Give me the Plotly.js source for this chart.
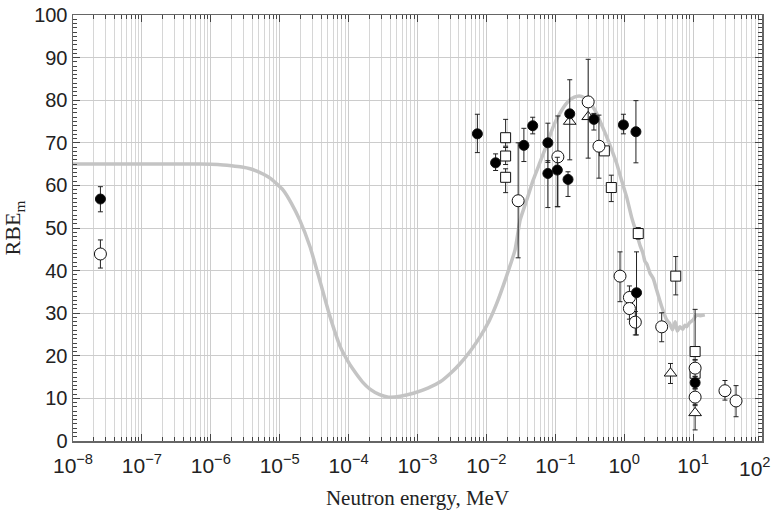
<!DOCTYPE html>
<html>
<head>
<meta charset="utf-8">
<script src="https://cdn.plot.ly/plotly-3.0.1.min.js"></script>
<style>html,body{margin:0;padding:0;background:#fff;}#chart{width:773px;height:520px;}</style>
</head>
<body>
<div id="chart"></div>
<script>
// Model curve (log10 of energy in MeV, RBE_m)
const curveLogE = [-8, -7, -6.5, -6.16, -5.9, -5.7, -5.55, -5.43, -5.3, -5.14, -4.95, -4.83, -4.71, -4.56, -4.42, -4.27, -4.12, -4.02, -3.93, -3.8, -3.69, -3.55, -3.42, -3.25, -3.06, -2.85, -2.67, -2.52, -2.38, -2.23, -2.09, -1.96, -1.85, -1.71, -1.585, -1.51, -1.41, -1.32, -1.22, -1.125, -1.03, -0.93, -0.835, -0.76, -0.69, -0.62, -0.545, -0.47, -0.40, -0.33, -0.254, -0.18, -0.11, -0.04, 0.035, 0.108, 0.18, 0.23, 0.27, 0.30, 0.33, 0.375, 0.42, 0.47, 0.545, 0.617, 0.66, 0.70, 0.74, 0.77, 0.81, 0.85, 0.88, 0.906, 0.95, 1.0, 1.05, 1.10, 1.17];
const curveRBE = [65.0, 65.0, 65.0, 65.0, 64.9, 64.6, 64.3, 63.9, 63.1, 61.7, 58.9, 55.8, 51.9, 45.6, 37.8, 29.2, 22.1, 19.0, 16.7, 13.9, 12.2, 10.9, 10.3, 10.5, 11.2, 12.4, 13.9, 15.9, 18.2, 21.2, 24.5, 28.2, 32.3, 38.6, 44.8, 51.9, 56.8, 61.3, 65.5, 69.5, 73.8, 77.0, 79.3, 80.4, 80.9, 80.9, 80.2, 78.8, 76.9, 74.3, 71.4, 68.3, 65.2, 61.3, 57.3, 52.5, 48.7, 45.9, 44.2, 42.2, 41.5, 39.4, 38.2, 35.5, 31.5, 28.4, 27.6, 26.1, 28.0, 25.8, 26.8, 26.2, 27.2, 26.8, 27.8, 28.4, 29.6, 29.4, 29.6];

// Filled circles
const fcE = [2.5e-8, 0.0074, 0.0136, 0.035, 0.047, 0.078, 0.078, 0.107, 0.153, 0.162, 0.363, 0.974, 1.48, 1.51, 10.7];
const fcY = [56.8, 72.1, 65.3, 69.4, 74.0, 70.0, 62.8, 63.6, 61.4, 76.8, 75.5, 74.2, 72.6, 34.8, 13.7];
const fcUp = [2.9, 4.6, 2.1, 4.0, 2.0, 4.6, 3.0, 3.0, 1.8, 8.0, 1.4, 2.5, 7.3, 9.6, 1.5];
const fcDn = [3.0, 4.4, 1.8, 3.8, 1.9, 4.6, 8.0, 8.6, 4.0, 10.8, 2.5, 2.1, 7.3, 9.9, 1.5];

// Open circles
const ocE = [2.5e-8, 0.0289, 0.109, 0.30, 0.43, 0.87, 1.19, 1.19, 1.45, 3.5, 10.7, 10.7, 29, 42];
const ocY = [43.9, 56.4, 66.7, 79.6, 69.2, 38.7, 33.7, 31.1, 27.9, 26.8, 17.1, 10.3, 11.8, 9.4];
const ocUp = [3.3, 13.6, 9.6, 10.0, 7.3, 5.7, 2.7, 2.5, 2.5, 3.3, 2.0, 2.0, 2.4, 3.6];
const ocDn = [3.3, 13.4, 11.7, 13.2, 7.5, 6.0, 2.5, 2.5, 3.0, 3.5, 2.0, 2.0, 2.2, 3.7];

// Open squares
const sqE = [0.019, 0.019, 0.019, 0.515, 0.65, 1.6, 5.6, 10.7, 10.7];
const sqY = [71.2, 66.9, 61.9, 68.1, 59.5, 48.7, 38.7, 21.0, 15.9];
const sqUp = [4.3, 2.0, 2.0, 0.8, 2.9, 1.4, 4.6, 9.9, 1.5];
const sqDn = [2.0, 2.0, 3.6, 0.8, 3.3, 1.3, 4.4, 2.0, 1.5];

// Open triangles
const trE = [0.162, 0.30, 4.7, 10.7];
const trY = [75.0, 76.1, 15.9, 6.6];
const trUp = [0.0, 0.0, 2.3, 2.0];
const trDn = [0.0, 0.0, 2.4, 4.0];

// Axis ticks
const xTickExp = [-8, -7, -6, -5, -4, -3, -2, -1, 0, 1, 2];
const yTicks = [0, 10, 20, 30, 40, 50, 60, 70, 80, 90, 100];

function expLabel(e) { return '10<sup>' + (e < 0 ? '\u2212' + (-e) : e) + '</sup>'; }

function errObj(up, dn) {
  return {type: 'data', symmetric: false, array: up, arrayminus: dn,
          color: '#222', thickness: 1, width: 2.5, visible: true};
}
function pts(x, y, up, dn, symbol, fill, size) {
  return {x: x, y: y, type: 'scatter', mode: 'markers', showlegend: false,
    error_y: errObj(up, dn),
    marker: {symbol: symbol, size: size, color: fill, line: {color: '#111', width: 1}}};
}

const data = [
  {x: curveLogE.map(v => Math.pow(10, v)), y: curveRBE, type: 'scatter', mode: 'lines',
   line: {color: '#c4c4c4', width: 3.5, shape: 'spline', smoothing: 0.5}, showlegend: false},
  pts(sqE, sqY, sqUp, sqDn, 'square', '#fff', 10),
  pts(trE, trY, trUp, trDn, 'triangle-up', '#fff', 11),
  pts(ocE, ocY, ocUp, ocDn, 'circle', '#fff', 12),
  pts(fcE, fcY, fcUp, fcDn, 'circle', '#000', 10)
];

const lastExp = xTickExp[xTickExp.length - 1];
const tickFont = {family: 'Liberation Sans, Arial, sans-serif', size: 21, color: '#222'};

const layout = {
  width: 773, height: 520,
  margin: {l: 73, r: 11, t: 15, b: 79},
  paper_bgcolor: '#fff', plot_bgcolor: '#fff',
  showlegend: false,
  xaxis: {
    type: 'log', range: [-8, 2],
    tickmode: 'array',
    tickvals: xTickExp.map(e => Math.pow(10, e)),
    ticktext: xTickExp.map(e => e === lastExp ? '' : expLabel(e)),
    ticklabelstandoff: 5,
    showline: true, mirror: 'ticks', linecolor: '#666', linewidth: 1.5,
    ticks: 'inside', ticklen: 7, tickcolor: '#444',
    showgrid: true, gridcolor: '#cccccc', gridwidth: 1, zeroline: false,
    tickfont: tickFont,
    minor: {ticks: 'inside', ticklen: 4, tickcolor: '#444', showgrid: true, gridcolor: '#d6d6d6', gridwidth: 1, dtick: 'D1'},
    title: {text: 'Neutron energy, MeV', font: {family: 'Liberation Serif, Times New Roman, serif', size: 21, color: '#222'}, standoff: 14}
  },
  yaxis: {
    range: [0, 100], tickvals: yTicks,
    showline: true, mirror: 'ticks', linecolor: '#666', linewidth: 1.5,
    ticks: 'inside', ticklen: 7, tickcolor: '#444',
    showgrid: true, gridcolor: '#cccccc', gridwidth: 1, zeroline: false,
    tickfont: {family: 'Liberation Sans, Arial, sans-serif', size: 20, color: '#222'},
    minor: {ticks: 'inside', ticklen: 4, tickcolor: '#444', dtick: 1, showgrid: false},
    title: {text: 'RBE<sub>m</sub>', font: {family: 'Liberation Serif, Times New Roman, serif', size: 22, color: '#222'}, standoff: 8}
  },
  annotations: [{
    text: expLabel(lastExp), xref: 'paper', yref: 'paper', x: 1, y: 0,
    xanchor: 'right', yanchor: 'top', xshift: 11, yshift: -11,
    showarrow: false, font: tickFont
  }]
};

Plotly.newPlot('chart', data, layout, {staticPlot: true, displayModeBar: false});
</script>
</body>
</html>
